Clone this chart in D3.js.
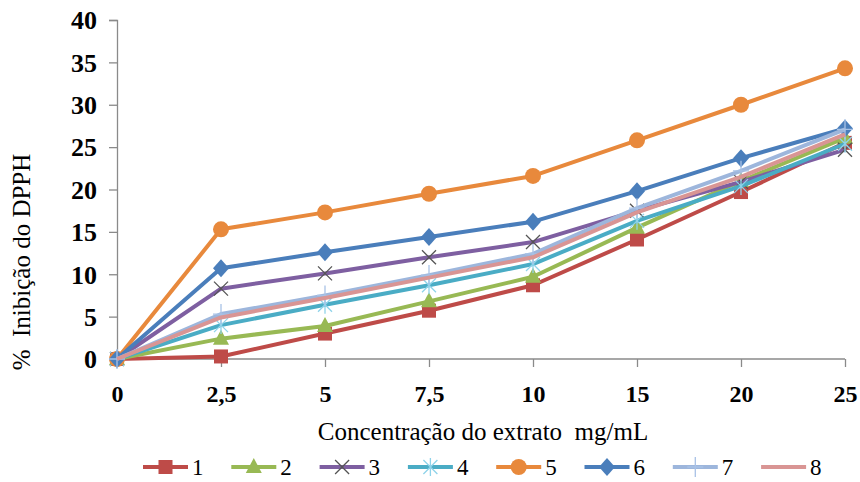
<!DOCTYPE html>
<html>
<head>
<meta charset="utf-8">
<script src="https://cdn.jsdelivr.net/npm/d3@7/dist/d3.min.js"></script>
<style>
  html, body { margin: 0; padding: 0; background: #fff; }
  svg { display: block; }
  text { font-family: "Liberation Serif", "Times New Roman", serif; }
</style>
</head>
<body>
<svg id="chart" width="860" height="482"></svg>
<script>
// Concentration levels (categorical x axis)
const categories = ["0", "2,5", "5", "7,5", "10", "15", "20", "25"];
const yTicks = [0, 5, 10, 15, 20, 25, 30, 35, 40];

// % DPPH inhibition for each extract
const s1 = [0, 0.3, 3.0, 5.7, 8.7, 14.1, 19.7, 25.5];
const s2 = [0, 2.4, 3.9, 6.8, 9.7, 15.5, 21.0, 26.1];
const s3 = [0, 8.3, 10.1, 12.0, 13.8, 17.5, 20.9, 24.7];
const s4 = [0, 4.0, 6.4, 8.7, 11.2, 16.3, 20.4, 25.4];
const s5 = [0, 15.3, 17.3, 19.5, 21.6, 25.8, 30.0, 34.3];
const s6 = [0, 10.7, 12.6, 14.4, 16.2, 19.8, 23.7, 27.2];
const s7 = [0, 5.3, 7.5, 9.9, 12.4, 17.8, 22.2, 27.1];
const s8 = [0, 4.9, 7.2, 9.6, 12.0, 17.3, 21.5, 26.5];

const seriesNames = ["1", "2", "3", "4", "5", "6", "7", "8"];
const seriesValues = [s1, s2, s3, s4, s5, s6, s7, s8];
const lineColors = ["#BE4B48", "#98B954", "#7E5FA1", "#4AACC5", "#E8893C", "#4A7EBB", "#9DB6DC", "#D99594"];
const markerTypes = ["square", "triangle", "x", "asterisk", "circle", "diamond", "plus", "none"];

const svg = d3.select("#chart");
const x = d3.scalePoint().domain(categories).range([117, 845]);
const y = d3.scaleLinear().domain([0, 40]).range([359, 20]);

const axisColor = "#8a8a8a";

// Y axis
const yAxis = svg.append("g").attr("transform", "translate(117,0)")
  .call(d3.axisLeft(y).tickValues(yTicks).tickSize(8).tickPadding(12).tickFormat(d3.format("d")));
yAxis.select(".domain").attr("stroke", axisColor).attr("stroke-width", 1.3);
yAxis.selectAll(".tick line").attr("stroke", axisColor).attr("stroke-width", 1.3);
yAxis.selectAll(".tick text")
  .attr("font-family", "Liberation Serif").attr("font-weight", "bold").attr("font-size", 26)
  .attr("fill", "#000").attr("dy", "0.34em");

// X axis
const xAxis = svg.append("g").attr("transform", "translate(0,359)")
  .call(d3.axisBottom(x).tickSize(8).tickSizeOuter(0).tickPadding(27));
xAxis.select(".domain").attr("stroke", axisColor).attr("stroke-width", 1.3)
  .attr("d", `M${x.range()[0]},0H${x.range()[1]}`);
xAxis.selectAll(".tick line").attr("stroke", axisColor).attr("stroke-width", 1.3);
xAxis.selectAll(".tick text")
  .attr("font-family", "Liberation Serif").attr("font-weight", "bold").attr("font-size", 24)
  .attr("fill", "#000").attr("dy", "0.35em");

// Axis titles
svg.append("text").attr("x", 483).attr("y", 440).attr("text-anchor", "middle")
  .attr("font-size", 25).attr("fill", "#000").attr("xml:space", "preserve")
  .text("Concentração do extrato  mg/mL");
svg.append("text").attr("transform", "translate(30,262) rotate(-90)")
  .attr("text-anchor", "middle").attr("font-size", 25).attr("fill", "#000")
  .attr("xml:space", "preserve").text("%  Inibição do DPPH");

// Marker drawing
function drawMarker(g, type, color) {
  const s = 7;
  switch (type) {
    case "square":
      g.append("rect").attr("x", -s).attr("y", -s).attr("width", 2 * s).attr("height", 2 * s).attr("fill", color);
      break;
    case "triangle":
      g.append("path").attr("d", "M0,-9L8,6L-8,6Z").attr("fill", color);
      break;
    case "circle":
      g.append("circle").attr("r", 8).attr("fill", color);
      break;
    case "diamond":
      g.append("path").attr("d", "M0,-9L8,0L0,9L-8,0Z").attr("fill", color);
      break;
    case "x":
      g.append("path").attr("d", "M-7,-7L7,7M-7,7L7,-7").attr("stroke", "#555").attr("stroke-width", 1.3).attr("fill", "none");
      break;
    case "asterisk":
      g.append("path").attr("d", "M-7,-7L7,7M-7,7L7,-7M0,-9V9").attr("stroke", "#8fd3ea").attr("stroke-width", 1.3).attr("fill", "none");
      break;
    case "plus":
      g.append("path").attr("d", "M0,-10V10M-8,0H8").attr("stroke", "#a8c2e6").attr("stroke-width", 1.3).attr("fill", "none");
      break;
  }
}

const line = d3.line().x((d, i) => x(categories[i])).y(d => y(d));

const plot = svg.append("g");
seriesValues.forEach((vals, si) => {
  const g = plot.append("g");
  g.append("path").datum(vals).attr("d", line).attr("fill", "none")
    .attr("stroke", lineColors[si]).attr("stroke-width", 4).attr("stroke-linejoin", "round");
  vals.forEach((v, i) => {
    const mg = g.append("g").attr("transform", `translate(${x(categories[i])},${y(v)})`);
    drawMarker(mg, markerTypes[si], lineColors[si]);
  });
});

// Legend
const legend = svg.append("g");
seriesNames.forEach((name, si) => {
  const lx = 143 + si * 88.3;
  const g = legend.append("g").attr("transform", `translate(${lx},467)`);
  g.append("line").attr("x1", 0).attr("x2", 45).attr("stroke", lineColors[si]).attr("stroke-width", 4);
  const mg = g.append("g").attr("transform", "translate(22.5,0)");
  drawMarker(mg, markerTypes[si], lineColors[si]);
  g.append("text").attr("x", 49).attr("y", 8).attr("font-size", 23).attr("fill", "#000").text(name);
});
</script>
</body>
</html>
